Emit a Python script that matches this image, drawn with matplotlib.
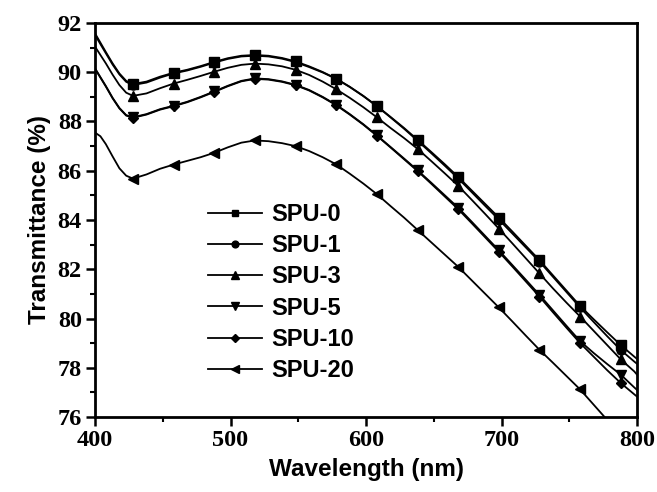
import matplotlib
matplotlib.use("Agg")
import matplotlib.pyplot as plt
import numpy as np
from matplotlib.ticker import MultipleLocator

OUT = "out.png"

# wavelength grid (nm)
WL = [400, 404, 408, 413, 418, 423, 428, 438, 448, 458, 468, 478, 488, 498, 508,
      518, 528, 538, 548, 558, 568, 578, 588, 598, 608, 618, 628, 638, 648, 658,
      668, 678, 688, 698, 708, 718, 728, 738, 748, 758, 768, 778, 788, 798, 800]

# wavelengths where the symbols sit
MARK_WL = [428, 458, 488, 518, 548, 578, 608, 638, 668, 698, 728, 758, 788]

SPU0 = [91.58, 91.20, 90.82, 90.36, 89.95, 89.65, 89.52, 89.62, 89.82, 89.98, 90.10, 90.25,
        90.42, 90.57, 90.67, 90.70, 90.67, 90.58, 90.44, 90.24, 90.01, 89.74, 89.41, 89.04,
        88.63, 88.19, 87.74, 87.26, 86.77, 86.27, 85.75, 85.20, 84.65, 84.10, 83.53, 82.95,
        82.37, 81.75, 81.13, 80.51, 79.97, 79.44, 78.92, 78.45, 78.36]
SPU1 = [91.52, 91.14, 90.77, 90.31, 89.91, 89.61, 89.48, 89.58, 89.78, 89.95, 90.07, 90.22,
        90.39, 90.54, 90.64, 90.67, 90.64, 90.55, 90.41, 90.21, 89.99, 89.73, 89.40, 89.03,
        88.62, 88.17, 87.71, 87.22, 86.72, 86.21, 85.69, 85.13, 84.57, 84.02, 83.45, 82.88,
        82.31, 81.69, 81.07, 80.45, 79.86, 79.28, 78.72, 78.25, 78.16]
SPU3 = [91.04, 90.70, 90.36, 89.90, 89.48, 89.17, 89.04, 89.14, 89.35, 89.54, 89.69, 89.85,
        90.02, 90.18, 90.30, 90.35, 90.32, 90.24, 90.10, 89.89, 89.62, 89.31, 88.96, 88.58,
        88.17, 87.74, 87.33, 86.89, 86.40, 85.90, 85.39, 84.82, 84.24, 83.65, 83.05, 82.44,
        81.83, 81.22, 80.64, 80.08, 79.50, 78.92, 78.34, 77.85, 77.72]
SPU5 = [90.16, 89.80, 89.44, 88.96, 88.55, 88.26, 88.17, 88.30, 88.50, 88.64, 88.80, 89.00,
        89.22, 89.45, 89.65, 89.75, 89.72, 89.63, 89.49, 89.28, 89.00, 88.68, 88.30, 87.89,
        87.44, 86.97, 86.50, 86.02, 85.52, 85.01, 84.50, 83.93, 83.35, 82.77, 82.17, 81.57,
        80.96, 80.33, 79.70, 79.08, 78.60, 78.15, 77.72, 77.20, 77.10]
SPU10 = [90.14, 89.78, 89.42, 88.94, 88.53, 88.24, 88.15, 88.28, 88.48, 88.62, 88.78, 88.98,
         89.20, 89.43, 89.63, 89.73, 89.70, 89.61, 89.47, 89.26, 88.98, 88.66, 88.28, 87.87,
         87.42, 86.95, 86.47, 85.99, 85.48, 84.96, 84.44, 83.87, 83.29, 82.71, 82.11, 81.50,
         80.89, 80.25, 79.62, 79.00, 78.45, 77.90, 77.38, 76.92, 76.83]
SPU20 = [87.55, 87.40, 87.08, 86.58, 86.10, 85.80, 85.68, 85.85, 86.08, 86.25, 86.40, 86.55,
         86.73, 86.95, 87.14, 87.23, 87.20, 87.12, 87.00, 86.80, 86.55, 86.26, 85.88, 85.48,
         85.05, 84.57, 84.10, 83.60, 83.10, 82.60, 82.10, 81.55, 81.00, 80.45, 79.88, 79.30,
         78.73, 78.20, 77.66, 77.12, 76.50, 75.88, 75.30, 74.70, 74.60]

LABELS = ["SPU-0", "SPU-1", "SPU-3", "SPU-5", "SPU-10", "SPU-20"]
SERIES = [SPU0, SPU1, SPU3, SPU5, SPU10, SPU20]
MARKERS = ["s", "o", "^", "v", "D", "<"]
MSIZE = [6.5, 6.5, 7, 7, 5.5, 7]

SANS = "Liberation Sans"
SERIF = "Liberation Serif"


def draw():
    fig = plt.figure(figsize=(6.57, 4.92), dpi=100)
    ax = fig.add_axes([0.1446, 0.1524, 0.8250, 0.8009])

    wl = np.array(WL)
    mark_idx = list(np.where(np.isin(wl, MARK_WL))[0])
    for y, lab, m, ms in zip(SERIES, LABELS, MARKERS, MSIZE):
        ax.plot(wl, y, color="black", lw=1.3, marker=m, ms=ms,
                markevery=mark_idx, label=lab, clip_on=True)

    ax.set_xlim(400, 800)
    ax.set_ylim(76, 92)
    ax.xaxis.set_major_locator(MultipleLocator(100))
    ax.xaxis.set_minor_locator(MultipleLocator(50))
    ax.yaxis.set_major_locator(MultipleLocator(2))
    ax.yaxis.set_minor_locator(MultipleLocator(1))
    ax.tick_params(which="major", direction="out", length=6.5, width=1.8, pad=3)
    ax.tick_params(which="minor", direction="out", length=3.5, width=1.5)
    for sp in ax.spines.values():
        sp.set_linewidth(2)
    for t in ax.get_xticklabels() + ax.get_yticklabels():
        t.set_fontfamily(SERIF)
        t.set_fontweight("bold")
        t.set_fontsize(17.5)

    ax.set_xlabel("Wavelength (nm)", fontfamily=SANS, fontweight="bold", fontsize=17.5, labelpad=5)
    ax.set_ylabel("Transmittance (%)", fontfamily=SANS, fontweight="bold", fontsize=17.5, labelpad=5)

    leg = ax.legend(loc="center left", bbox_to_anchor=(0.2085, 0.316), frameon=False,
                    prop={"family": SANS, "weight": "bold", "size": 17},
                    handlelength=2.3, handletextpad=0.4, labelspacing=0.35,
                    borderpad=0, borderaxespad=0, markerscale=0.75)
    for h in leg.legend_handles:
        h.set_linewidth(1.3)

    fig.savefig(OUT, dpi=100)
    plt.close(fig)


def main():
    draw()
    print(f"[saved] {OUT}")


if __name__ == "__main__":
    main()
